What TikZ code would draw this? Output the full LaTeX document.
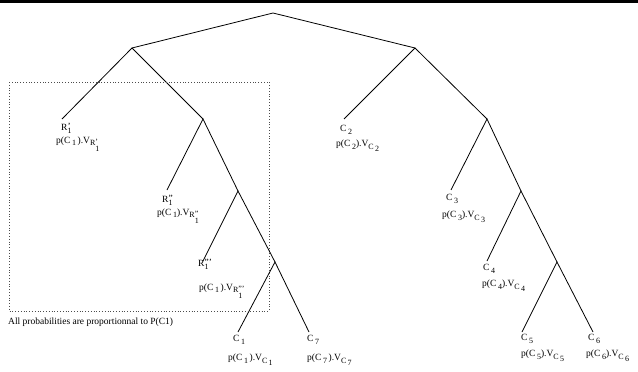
\documentclass[tikz,border=0pt]{standalone}
\usepackage{fontspec}
\setmainfont{Liberation Serif}
\newcommand{\sbs}[1]{\raisebox{-2.6pt}{\fontsize{8}{8}\selectfont #1}}
\newcommand{\stk}[2]{\makebox[0pt][l]{\raisebox{1.6pt}{#1}}\sbs{#2}}
\begin{document}
\begin{tikzpicture}[x=1pt,y=-1pt,
  branch/.style={line width=0.8pt},
  lbl/.style={anchor=west,inner sep=0pt,font=\fontsize{9.5}{10}\selectfont},
  frame/.style={line width=0.7pt,dash pattern=on 0.8pt off 2pt,black!70}]
\useasboundingbox (0,0) rectangle (638,372);
\fill[black] (0,0) rectangle (638,2.5);
% internal nodes
\coordinate (root) at (273,13);
\coordinate (L) at (132,48);
\coordinate (R) at (415,48);
\coordinate (A) at (203,119);
\coordinate (B) at (238,191);
\coordinate (C) at (275,262);
\coordinate (D) at (487,119);
\coordinate (E) at (521,191);
\coordinate (F) at (557,262);
% leaf ends
\coordinate (r1) at (62,119);
\coordinate (r2) at (167,190);
\coordinate (r3) at (203,261);
\coordinate (c1) at (238,332);
\coordinate (c7) at (309,332);
\coordinate (c2) at (344,119);
\coordinate (c3) at (451,190);
\coordinate (c4) at (487,261);
\coordinate (c5) at (522,332);
\coordinate (c6) at (593,332);
% branches
\draw[branch] (L) -- (root) -- (R);
\draw[branch] (r1) -- (L) -- (A);
\draw[branch] (r2) -- (A) -- (B);
\draw[branch] (r3) -- (B) -- (C);
\draw[branch] (c1) -- (C) -- (c7);
\draw[branch] (c2) -- (R) -- (D);
\draw[branch] (c3) -- (D) -- (E);
\draw[branch] (c4) -- (E) -- (F);
\draw[branch] (c5) -- (F) -- (c6);
% dotted frame
\draw[frame] (9,82) rectangle (269,311);
\node[lbl] (cap) at (8,322) {All probabilities are proportionnal to P(C1)};
% labels
\node[lbl] (n1) at (61,128) {R\stk{'}{1}};
\node[lbl] (p1) at (56,144) {p(C\,\sbs{1}\,).V\sbs{R\stk{'}{\sbs{1}}}};
\node[lbl] (n2) at (162,200) {R\stk{''}{1}};
\node[lbl] (p2) at (157,216) {p(C\,\sbs{1}).V\sbs{R\stk{''}{\sbs{1}}}};
\node[lbl] (n3) at (198,264) {R\stk{'''}{1}};
\node[lbl] (p3) at (199,291) {p(C\,\sbs{1}\,).V\sbs{R\stk{'''}{\sbs{1}}}};
\node[lbl] (n4) at (233,340) {C\,\sbs{1}};
\node[lbl] (p4) at (228,360) {p(C\,\sbs{1}\,).V\sbs{C\,\sbs{1}}};
\node[lbl] (n5) at (307,340) {C\,\sbs{7}};
\node[lbl] (p5) at (307,360) {p(C\,\sbs{7}\,).V\sbs{C\,\sbs{7}}};
\node[lbl] (n6) at (340,130) {C\,\sbs{2}};
\node[lbl] (p6) at (336,146) {p(C\,\sbs{2}).V\sbs{C\,\sbs{2}}};
\node[lbl] (n7) at (446,199) {C\,\sbs{3}};
\node[lbl] (p7) at (442,217) {p(C\,\sbs{3}).V\sbs{C\,\sbs{3}}};
\node[lbl] (n8) at (483,269) {C\,\sbs{4}};
\node[lbl] (p8) at (482,286) {p(C\,\sbs{4}).V\sbs{C\,\sbs{4}}};
\node[lbl] (n9) at (521,339) {C\,\sbs{5}};
\node[lbl] (p9) at (521,356) {p(C\,\sbs{5}).V\sbs{C\,\sbs{5}}};
\node[lbl] (n10) at (588,339) {C\,\sbs{6}};
\node[lbl] (p10) at (586,356) {p(C\,\sbs{6}).V\sbs{C\,\sbs{6}}};
\end{tikzpicture}
\end{document}
